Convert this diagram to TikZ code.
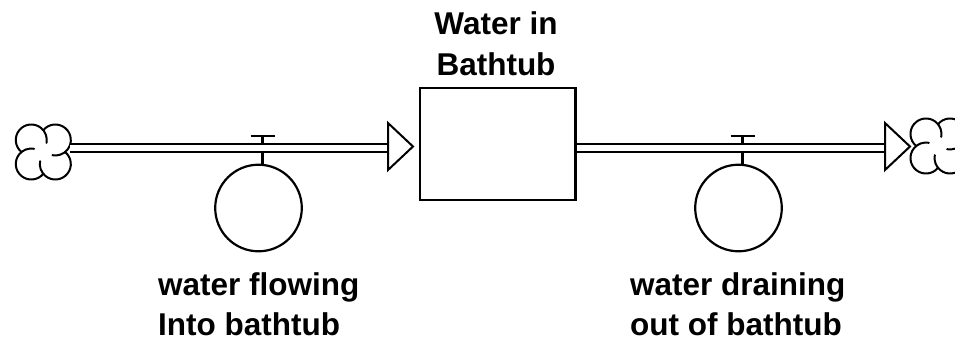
\documentclass[tikz,border=0pt]{standalone}
\usepackage{fontspec}
\setmainfont{Liberation Sans}
\usetikzlibrary{calc}
\begin{document}
\begin{tikzpicture}[x=1pt,y=1pt,
  outline/.style={draw=black, line width=2.2pt},
  stockbox/.style={outline, fill=white, minimum width=155.5pt, minimum height=112pt, inner sep=0pt},
  pipeline/.style={draw=black, line width=2.2pt, double=white, double distance=6.3pt},
  headshape/.style={draw=black, line width=2pt, fill=white, line join=miter},
  valvecircle/.style={outline, circle, minimum size=86.6pt, inner sep=0pt},
  valvebar/.style={draw=black, line width=2.6pt},
  textlabel/.style={inner sep=0pt, font=\fontsize{31.5}{40}\selectfont\bfseries},
  pics/flowcloud/.style={code={
    % four lobes, each running on past its neighbour into the middle
    \foreach \p in {135,45,-45,-135}{
      \draw[draw=black, line width=2pt, line cap=round]
        (\p:17pt) ++(\p+95.7:15.5pt)
        arc[start angle=\p+95.7, end angle=\p-145.7, radius=15.5pt];
    }}}
]
\useasboundingbox (0,0) rectangle (955,341);
\fill[white] (0,0) rectangle (955,341);
\clip (0,0) rectangle (955,341);

% stock
\node[stockbox] (stock) at (497.75,197) {};
\node[textlabel, anchor=base] (stocktitle) at (496,306)
  {\begin{tabular}[t]{@{}c@{}}Water in\\Bathtub\end{tabular}};

% source and sink
\coordinate (src) at (43.3,189);
\coordinate (sink) at (938,195);
\pic at (src) {flowcloud};
\pic at (sink) {flowcloud};

% pipe ends and arrow heads
\coordinate (srcend) at ($(src)+(26.5,4)$);
\coordinate (inbase) at (388,193);
\coordinate (inhead) at (388,194.5);
\coordinate (intip) at (413,194.5);
\coordinate (outstart) at (stock.east |- inbase);
\coordinate (outbase) at (885,193);
\coordinate (outhead) at (885,194.5);
\coordinate (outtip) at (910,194.5);

% inflow valve
\coordinate (inbar) at (262.5,205);
\node[valvecircle] (inrate) at (258.5,133) {};
\draw[valvebar] (inbar) -- (inbar |- inrate.north);
\draw[valvebar] ($(inbar)+(-12,0)$) -- ($(inbar)+(12,0)$);

% outflow valve
\coordinate (outbar) at (742.5,205);
\node[valvecircle] (outrate) at (738.5,133) {};
\draw[valvebar] (outbar) -- (outbar |- outrate.north);
\draw[valvebar] ($(outbar)+(-12,0)$) -- ($(outbar)+(12,0)$);

% flow pipes
\draw[pipeline] (srcend) -- (inbase);
\draw[pipeline] (outstart) -- (outbase);
\draw[headshape] ($(inhead)+(0,23.5)$) -- (intip) -- ($(inhead)+(0,-23.5)$) -- cycle;
\draw[headshape] ($(outhead)+(0,23.5)$) -- (outtip) -- ($(outhead)+(0,-23.5)$) -- cycle;

% rate names
\node[textlabel, anchor=base west] (inname) at (158,46)
  {\begin{tabular}[t]{@{}l@{}}water flowing\\Into bathtub\end{tabular}};
\node[textlabel, anchor=base west] (outname) at (630,46)
  {\begin{tabular}[t]{@{}l@{}}water draining\\out of bathtub\end{tabular}};
\end{tikzpicture}
\end{document}
